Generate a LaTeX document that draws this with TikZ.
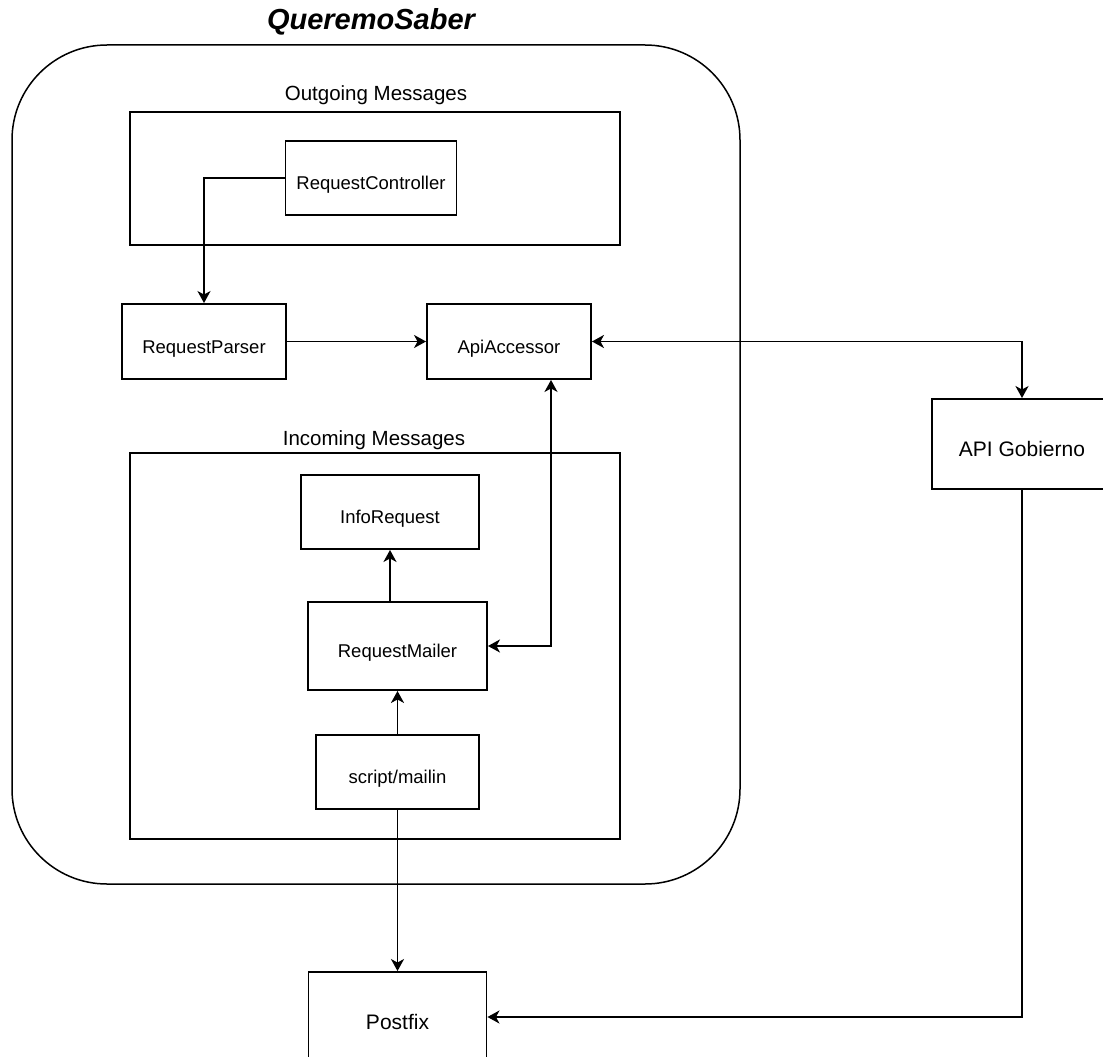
\documentclass[tikz,border=0pt]{standalone}
\usepackage{fontspec}
\setmainfont{Liberation Sans}
\usetikzlibrary{arrows.meta}
\begin{document}
\begin{tikzpicture}[x=1pt,y=-1pt,
  line width=1.9pt,
  box/.style={draw,rectangle,inner sep=0pt,text height=23pt,text depth=0pt,font=\fontsize{18.5}{20}\selectfont},
  bigbox/.style={draw,rectangle,inner sep=0pt,text height=24pt,text depth=0pt,font=\fontsize{21}{24}\selectfont},
  grp/.style={draw,line width=1.9pt},
  grplabel/.style={inner sep=0pt,font=\fontsize{20.5}{24}\selectfont},
  tip/.tip={Stealth[length=12pt,width=13pt,inset=3.5pt]},
  arr/.style={-tip},
  darr/.style={tip-tip}
]
\useasboundingbox (0,0) rectangle (1103,1057);
\clip (0,0) rectangle (1103,1057);
% outer container
\draw[line width=1.5pt,rounded corners=95pt] (12,45) rectangle (740,884);
\node[inner sep=0pt,font=\fontsize{29}{32}\selectfont\bfseries\itshape] (title) at (371,22) {QueremoSaber};
% groups
\draw[grp] (130,112) rectangle (620,245);
\node[grplabel] (outlbl) at (376,95) {Outgoing Messages};
\draw[grp] (130,453) rectangle (620,839);
\node[grplabel] (inlbl) at (374,440) {Incoming Messages};
% nodes
\node[box,minimum width=171pt,minimum height=74pt] (RC) at (371,178) {RequestController};
\node[box,minimum width=164pt,minimum height=75pt] (RP) at (204,341.5) {RequestParser};
\node[box,minimum width=164pt,minimum height=75pt] (AA) at (509,341.5) {ApiAccessor};
\node[bigbox,minimum width=180pt,minimum height=90pt] (AG) at (1022,444) {API Gobierno};
\node[box,minimum width=178pt,minimum height=74pt] (IR) at (390,512) {InfoRequest};
\node[box,minimum width=179pt,minimum height=88pt] (RM) at (397.5,646) {RequestMailer};
\node[box,minimum width=163pt,minimum height=74pt] (SM) at (397.5,772) {script/mailin};
\node[bigbox,minimum width=178pt,minimum height=90pt] (PF) at (397.5,1017) {Postfix};
% connectors
\draw[arr] (RC.west) -| (RP.north);
\draw[arr] (RP.east) -- (AA.west);
\draw[darr] (AA.east) -| (AG.north);
\draw[darr] ([xshift=42pt]AA.south) |- (RM.east);
\draw[arr] (IR.south |- RM.north) -- (IR.south);
\draw[arr] (SM.north) -- (RM.south);
\draw[arr] (SM.south) -- (PF.north);
\draw[arr] (AG.south) |- (PF.east);
\end{tikzpicture}
\end{document}
